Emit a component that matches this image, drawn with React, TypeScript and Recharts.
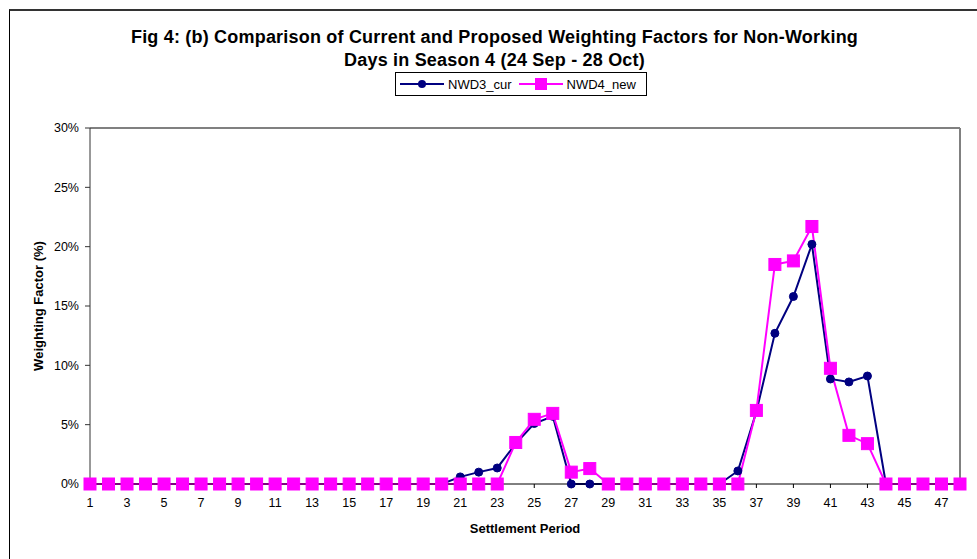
import React from "react"
import { Legend, Line, LineChart, ReferenceLine, XAxis, YAxis } from "recharts"

// Settlement periods 1..48
const periods = [
  1, 2, 3, 4, 5, 6, 7, 8, 9, 10, 11, 12, 13, 14, 15, 16,
  17, 18, 19, 20, 21, 22, 23, 24, 25, 26, 27, 28, 29, 30, 31, 32,
  33, 34, 35, 36, 37, 38, 39, 40, 41, 42, 43, 44, 45, 46, 47, 48,
]

// NWD3_cur weighting factor (%)
const curValues = [
  0, 0, 0, 0, 0, 0, 0, 0, 0, 0, 0, 0, 0, 0, 0, 0,
  0, 0, 0, 0, 0.6, 1.0, 1.35, 3.4, 5.1, 5.7, 0, 0, 0, 0, 0, 0,
  0, 0, 0, 1.1, 6.1, 12.7, 15.8, 20.2, 8.85, 8.6, 9.1, 0, 0, 0, 0, 0,
]

// NWD4_new weighting factor (%)
const newValues = [
  0, 0, 0, 0, 0, 0, 0, 0, 0, 0, 0, 0, 0, 0, 0, 0,
  0, 0, 0, 0, 0, 0, 0, 3.5, 5.45, 5.95, 1.0, 1.3, 0, 0, 0, 0,
  0, 0, 0, 0, 6.2, 18.5, 18.8, 21.7, 9.75, 4.1, 3.4, 0, 0, 0, 0, 0,
]

const yTicks = [0, 5, 10, 15, 20, 25, 30]
const xTicks = [1, 3, 5, 7, 9, 11, 13, 15, 17, 19, 21, 23, 25, 27, 29, 31, 33, 35, 37, 39, 41, 43, 45, 47]

const data = periods.map((p, i) => ({ period: p, cur: curValues[i], next: newValues[i] }))

const NAVY = "#000080"
const PINK = "#ff00ff"
const FONT = "'Liberation Sans', Arial, sans-serif"

const SquareDot = (props: any) => {
  const { cx, cy } = props
  if (cx == null || cy == null) return null
  return <rect x={cx - 6} y={cy - 6} width={12} height={12} fill={PINK} stroke={PINK} />
}

const LegendBox = () => (
  <div
    style={{
      border: "1px solid #000",
      height: 24,
      boxSizing: "border-box",
      display: "flex",
      alignItems: "center",
      fontFamily: FONT,
      fontSize: 13,
      color: "#000",
      background: "#fff",
    }}
  >
    <svg width={48} height={12} style={{ marginLeft: 4 }}>
      <line x1={0} y1={6} x2={44} y2={6} stroke={NAVY} strokeWidth={2} />
      <circle cx={22} cy={6} r={4} fill={NAVY} />
    </svg>
    <span>NWD3_cur</span>
    <svg width={48} height={12} style={{ marginLeft: 7 }}>
      <line x1={0} y1={6} x2={44} y2={6} stroke={PINK} strokeWidth={2} />
      <rect x={16} y={0} width={12} height={12} fill={PINK} />
    </svg>
    <span>NWD4_new</span>
  </div>
)

export default function App() {
  return (
    <div style={{ position: "relative", width: 977, height: 559, overflow: "hidden", background: "#fff" }}>
      <style>{"body{margin:0}"}</style>
      <div
        style={{
          position: "absolute",
          left: 9,
          top: 9,
          width: 1100,
          height: 700,
          borderTop: "2px solid #333",
          borderLeft: "1px solid #000",
        }}
      />
      <div
        style={{
          position: "absolute",
          left: 0,
          top: 26,
          width: 989,
          textAlign: "center",
          fontFamily: FONT,
          fontWeight: "bold",
          fontSize: 18,
          letterSpacing: 0.2,
          lineHeight: "23px",
          color: "#000",
        }}
      >
        Fig 4: (b) Comparison of Current and Proposed Weighting Factors for Non-Working
        <br />
        Days in Season 4 (24 Sep - 28 Oct)
      </div>
      <LineChart
        width={977}
        height={559}
        data={data}
        margin={{ top: 128, right: 17, left: 30, bottom: 20 }}
        style={{ position: "absolute", left: 0, top: 0 }}
      >
        <ReferenceLine y={30} stroke="#808080" strokeWidth={2} />
        <ReferenceLine x={48} stroke="#808080" strokeWidth={2} />
        <XAxis
          dataKey="period"
          type="number"
          domain={[1, 48]}
          ticks={xTicks}
          height={55}
          stroke="#000"
          tickSize={4}
          tickMargin={10}
          tick={{ fontSize: 12.5, fill: "#000", fontFamily: FONT }}
          label={{
            value: "Settlement Period",
            position: "insideBottom",
            offset: 6,
            style: { fontSize: 13, fontWeight: "bold", fill: "#000", fontFamily: FONT },
          }}
        />
        <YAxis
          width={60}
          domain={[0, 30]}
          ticks={yTicks}
          stroke="#333"
          tickSize={5}
          tickMargin={6}
          tickFormatter={(v) => `${v}%`}
          tick={{ fontSize: 12.5, fill: "#000", fontFamily: FONT }}
          label={{
            value: "Weighting Factor (%)",
            angle: -90,
            position: "center",
            dx: -22,
            style: { fontSize: 13, fontWeight: "bold", fill: "#000", fontFamily: FONT, textAnchor: "middle" },
          }}
        />
        <Legend
          layout="vertical"
          align="center"
          verticalAlign="middle"
          content={() => <LegendBox />}
          wrapperStyle={{ position: "absolute", left: 395, top: 72, width: 252, height: 24 }}
        />
        <Line
          dataKey="cur"
          name="NWD3_cur"
          stroke={NAVY}
          strokeWidth={2}
          dot={{ r: 4, fill: NAVY, stroke: NAVY, strokeWidth: 1 }}
          activeDot={false}
          isAnimationActive={false}
        />
        <Line
          dataKey="next"
          name="NWD4_new"
          stroke={PINK}
          strokeWidth={2}
          dot={<SquareDot />}
          activeDot={false}
          isAnimationActive={false}
        />
      </LineChart>
    </div>
  )
}
